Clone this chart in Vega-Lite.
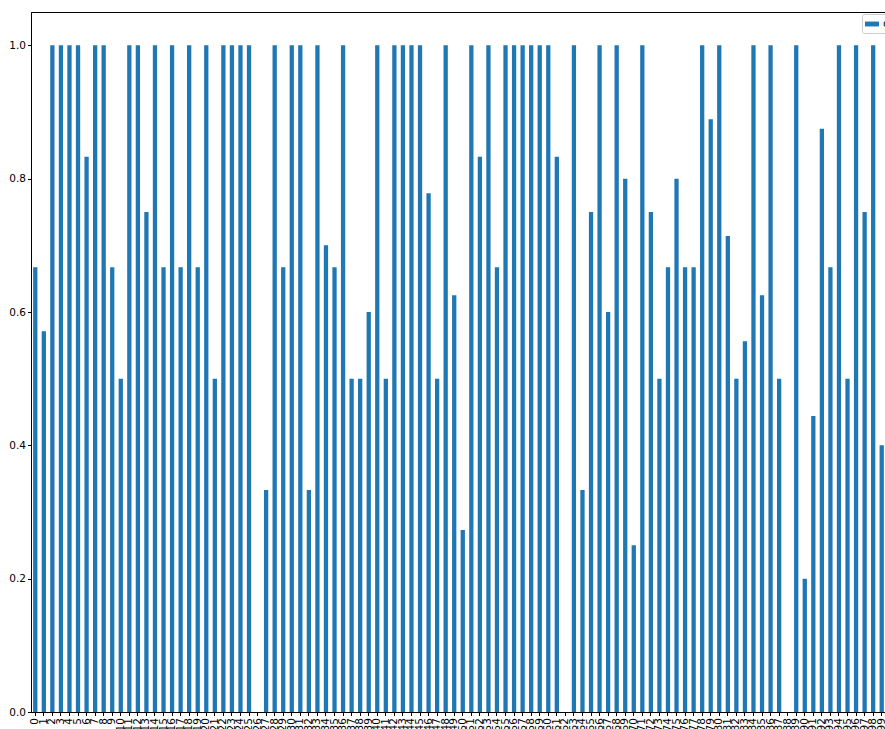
{
  "$schema": "https://vega.github.io/schema/vega-lite/v6.json",
  "width": 855,
  "height": 700,
  "autosize": "none",
  "padding": {"left": 31, "top": 12, "right": 0, "bottom": 17},
  "config": {
    "font": "DejaVu Sans",
    "view": {"stroke": "#000", "strokeWidth": 1},
    "axis": {"domainColor": "#000", "tickColor": "#000", "labelColor": "#000", "labelFontSize": 10.5, "tickSize": 3.5, "labelPadding": 2, "grid": false, "domainWidth": 1, "tickWidth": 1}
  },
  "data": {
    "values": [
      {"i": 0, "v": 0.667}, {"i": 1, "v": 0.571}, {"i": 2, "v": 1}, {"i": 3, "v": 1}, {"i": 4, "v": 1},
      {"i": 5, "v": 1}, {"i": 6, "v": 0.833}, {"i": 7, "v": 1}, {"i": 8, "v": 1}, {"i": 9, "v": 0.667},
      {"i": 10, "v": 0.5}, {"i": 11, "v": 1}, {"i": 12, "v": 1}, {"i": 13, "v": 0.75}, {"i": 14, "v": 1},
      {"i": 15, "v": 0.667}, {"i": 16, "v": 1}, {"i": 17, "v": 0.667}, {"i": 18, "v": 1}, {"i": 19, "v": 0.667},
      {"i": 20, "v": 1}, {"i": 21, "v": 0.5}, {"i": 22, "v": 1}, {"i": 23, "v": 1}, {"i": 24, "v": 1},
      {"i": 25, "v": 1}, {"i": 26, "v": 0}, {"i": 27, "v": 0.333}, {"i": 28, "v": 1}, {"i": 29, "v": 0.667},
      {"i": 30, "v": 1}, {"i": 31, "v": 1}, {"i": 32, "v": 0.333}, {"i": 33, "v": 1}, {"i": 34, "v": 0.7},
      {"i": 35, "v": 0.667}, {"i": 36, "v": 1}, {"i": 37, "v": 0.5}, {"i": 38, "v": 0.5}, {"i": 39, "v": 0.6},
      {"i": 40, "v": 1}, {"i": 41, "v": 0.5}, {"i": 42, "v": 1}, {"i": 43, "v": 1}, {"i": 44, "v": 1},
      {"i": 45, "v": 1}, {"i": 46, "v": 0.778}, {"i": 47, "v": 0.5}, {"i": 48, "v": 1}, {"i": 49, "v": 0.625},
      {"i": 50, "v": 0.273}, {"i": 51, "v": 1}, {"i": 52, "v": 0.833}, {"i": 53, "v": 1}, {"i": 54, "v": 0.667},
      {"i": 55, "v": 1}, {"i": 56, "v": 1}, {"i": 57, "v": 1}, {"i": 58, "v": 1}, {"i": 59, "v": 1},
      {"i": 60, "v": 1}, {"i": 61, "v": 0.833}, {"i": 62, "v": 0}, {"i": 63, "v": 1}, {"i": 64, "v": 0.333},
      {"i": 65, "v": 0.75}, {"i": 66, "v": 1}, {"i": 67, "v": 0.6}, {"i": 68, "v": 1}, {"i": 69, "v": 0.8},
      {"i": 70, "v": 0.25}, {"i": 71, "v": 1}, {"i": 72, "v": 0.75}, {"i": 73, "v": 0.5}, {"i": 74, "v": 0.667},
      {"i": 75, "v": 0.8}, {"i": 76, "v": 0.667}, {"i": 77, "v": 0.667}, {"i": 78, "v": 1}, {"i": 79, "v": 0.889},
      {"i": 80, "v": 1}, {"i": 81, "v": 0.714}, {"i": 82, "v": 0.5}, {"i": 83, "v": 0.556}, {"i": 84, "v": 1},
      {"i": 85, "v": 0.625}, {"i": 86, "v": 1}, {"i": 87, "v": 0.5}, {"i": 88, "v": 0}, {"i": 89, "v": 1},
      {"i": 90, "v": 0.2}, {"i": 91, "v": 0.444}, {"i": 92, "v": 0.875}, {"i": 93, "v": 0.667}, {"i": 94, "v": 1},
      {"i": 95, "v": 0.5}, {"i": 96, "v": 1}, {"i": 97, "v": 0.75}, {"i": 98, "v": 1}, {"i": 99, "v": 0.4}
    ]
  },
  "mark": {"type": "bar", "color": "#1f77b4"},
  "encoding": {
    "x": {
      "field": "i",
      "type": "ordinal",
      "sort": null,
      "scale": {"paddingInner": 0.5, "paddingOuter": 0.25},
      "axis": {"title": null, "labelAngle": 270, "labelPadding": 2}
    },
    "y": {
      "field": "v",
      "type": "quantitative",
      "scale": {"domain": [0, 1.05], "nice": false, "zero": true},
      "axis": {"title": null, "values": [0, 0.2, 0.4, 0.6, 0.8, 1.0], "format": ".1f"}
    },
    "color": {
      "datum": "count",
      "type": "nominal",
      "scale": {"range": ["#1f77b4"]},
      "legend": {
        "title": null,
        "orient": "none",
        "legendX": 831,
        "legendY": 2,
        "padding": 3,
        "strokeColor": "#cccccc",
        "fillColor": "#ffffff",
        "cornerRadius": 2,
        "symbolType": "M-1,-0.35H1V0.35H-1Z",
        "symbolSize": 196,
        "symbolStrokeWidth": 0,
        "labelOffset": 4,
        "labelFontSize": 10.5,
        "labelColor": "#000"
      }
    }
  }
}
